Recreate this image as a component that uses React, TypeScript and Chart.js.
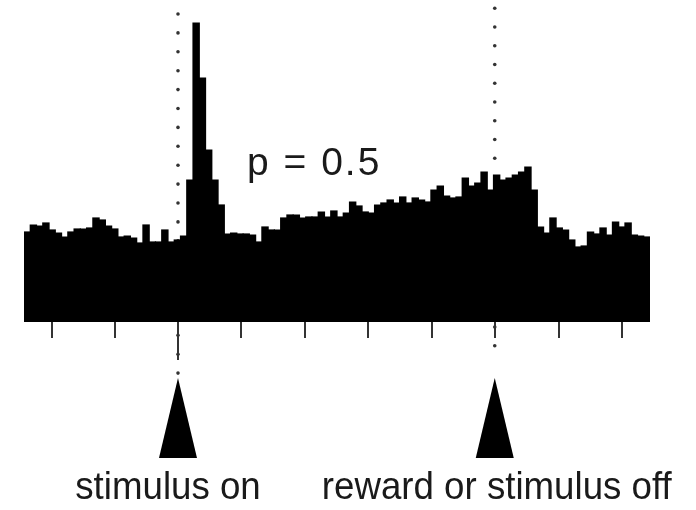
import { useEffect, useRef } from 'react';
import { Chart, registerables } from 'chart.js';

Chart.register(...registerables);

// Peri-stimulus time histogram, p = 0.5 (firing rate per bin, arbitrary units)
const RATES: number[] = [
  9.0, 9.7, 9.6, 9.9, 9.2, 8.9, 8.5, 9.0, 9.3, 9.3,
  9.4, 10.4, 10.2, 9.6, 9.3, 8.5, 8.6, 8.4, 7.9, 9.7,
  8.0, 8.0, 9.2, 8.0, 8.2, 8.6, 14.2, 29.9, 24.4, 17.2,
  14.2, 11.7, 8.8, 8.9, 8.8, 8.8, 8.7, 8.0, 9.5, 9.2,
  9.2, 10.4, 10.7, 10.7, 10.4, 10.5, 10.5, 11.0, 10.5, 11.1,
  10.5, 10.9, 12.0, 11.6, 11.0, 10.9, 11.7, 11.9, 12.2, 11.9,
  12.5, 11.9, 12.4, 12.2, 12.0, 13.2, 13.6, 12.6, 12.4, 12.5,
  14.4, 13.6, 13.9, 15.0, 13.2, 14.7, 14.2, 14.4, 14.7, 15.0,
  15.5, 13.2, 9.5, 8.9, 10.4, 9.4, 9.2, 8.2, 7.5, 7.6,
  9.0, 8.8, 9.4, 8.7, 10.0, 9.5, 9.9, 8.7, 8.6, 8.5,
];
const BIN_LABELS: string[] = RATES.map((_, i) => String(i));

// Positions on the time axis, in bin-edge units
const TICK_EDGES: number[] = [4.4, 14.6, 24.6, 34.7, 44.9, 55.0, 65.1, 75.2, 85.4, 95.5];
const STIMULUS_ON_EDGE = 24.6;
const REWARD_EDGE = 75.2;

const Y_MAX = 32.2;
const P_LABEL = 'p = 0.5';
const EVENT_LABELS: string[] = ['stimulus on', 'reward or stimulus off'];

const FONT = '"Liberation Sans", Arial, Helvetica, sans-serif';

function drawScaledText(ctx: any, text: string, cx: number, y: number, sx: number) {
  ctx.save();
  ctx.translate(cx, y);
  ctx.scale(sx, 1);
  ctx.textAlign = 'center';
  ctx.fillText(text, 0, 0);
  ctx.restore();
}

const overlay = {
  id: 'psthOverlay',
  beforeDatasetsDraw(chart: any) {
    const ctx = chart.ctx;
    const xs = chart.scales.x;
    const area = chart.chartArea;
    const px = (edge: number) => xs.getPixelForValue(edge - 0.5);
    ctx.save();
    ctx.fillStyle = '#333';
    const sx = px(STIMULUS_ON_EDGE);
    for (let y = area.top + 14; y <= area.bottom + 52; y += 18.9) {
      ctx.beginPath();
      ctx.arc(sx, y, 1.8, 0, Math.PI * 2);
      ctx.fill();
    }
    const rx = px(REWARD_EDGE);
    for (let y = area.top + 8.3; y <= area.bottom + 28; y += 18.75) {
      ctx.beginPath();
      ctx.arc(rx, y, 1.8, 0, Math.PI * 2);
      ctx.fill();
    }
    ctx.restore();
  },
  afterDraw(chart: any) {
    const ctx = chart.ctx;
    const xs = chart.scales.x;
    const area = chart.chartArea;
    const px = (edge: number) => xs.getPixelForValue(edge - 0.5);
    const b = area.bottom;
    ctx.save();
    // ticks
    ctx.strokeStyle = '#333';
    ctx.lineWidth = 2;
    TICK_EDGES.forEach((e) => {
      const x = Math.round(px(e));
      const len = e === STIMULUS_ON_EDGE ? 38 : 16;
      ctx.beginPath();
      ctx.moveTo(x, b);
      ctx.lineTo(x, b + len);
      ctx.stroke();
    });
    // arrows
    ctx.fillStyle = '#000';
    [STIMULUS_ON_EDGE, REWARD_EDGE].forEach((e) => {
      const x = px(e);
      ctx.beginPath();
      ctx.moveTo(x, b + 56);
      ctx.lineTo(x + 19, b + 136);
      ctx.lineTo(x - 19, b + 136);
      ctx.closePath();
      ctx.fill();
    });
    // labels
    ctx.fillStyle = '#1a1a1a';
    ctx.font = `39px ${FONT}`;
    ctx.textBaseline = 'alphabetic';
    drawScaledText(ctx, EVENT_LABELS[0], px(STIMULUS_ON_EDGE) - 10, b + 177, 0.94);
    drawScaledText(ctx, EVENT_LABELS[1], px(REWARD_EDGE) + 2, b + 177, 0.94);
    ctx.textAlign = 'left';
    ctx.font = `39px ${FONT}`;
    try { (ctx as any).letterSpacing = '2px'; } catch (e) { /* ignore */ }
    ctx.fillText(P_LABEL, 247, area.top + 175);
    try { (ctx as any).letterSpacing = '0px'; } catch (e) { /* ignore */ }
    ctx.restore();
  },
};

export default function App() {
  const canvasRef = useRef<HTMLCanvasElement | null>(null);

  useEffect(() => {
    const canvas = canvasRef.current;
    if (!canvas) return;
    const chart = new Chart(canvas, {
      type: 'bar',
      data: {
        labels: BIN_LABELS,
        datasets: [
          {
            data: RATES,
            backgroundColor: '#000',
            borderWidth: 0,
            barPercentage: 1,
            categoryPercentage: 1,
            inflateAmount: 0.6,
          } as any,
        ],
      },
      options: {
        animation: false,
        responsive: false,
        devicePixelRatio: 1,
        layout: { padding: { left: 24, right: 46, top: 0, bottom: 188 } },
        scales: {
          x: { display: false },
          y: { display: false, min: 0, max: Y_MAX },
        },
        plugins: {
          legend: { display: false },
          tooltip: { enabled: false },
        },
      },
      plugins: [overlay],
    });
    return () => chart.destroy();
  }, []);

  return (
    <div style={{ position: 'absolute', left: 0, top: 0, width: 696, height: 510, background: '#fff' }}>
      <canvas ref={canvasRef} width={696} height={510} style={{ display: 'block', width: 696, height: 510 }} />
    </div>
  );
}
